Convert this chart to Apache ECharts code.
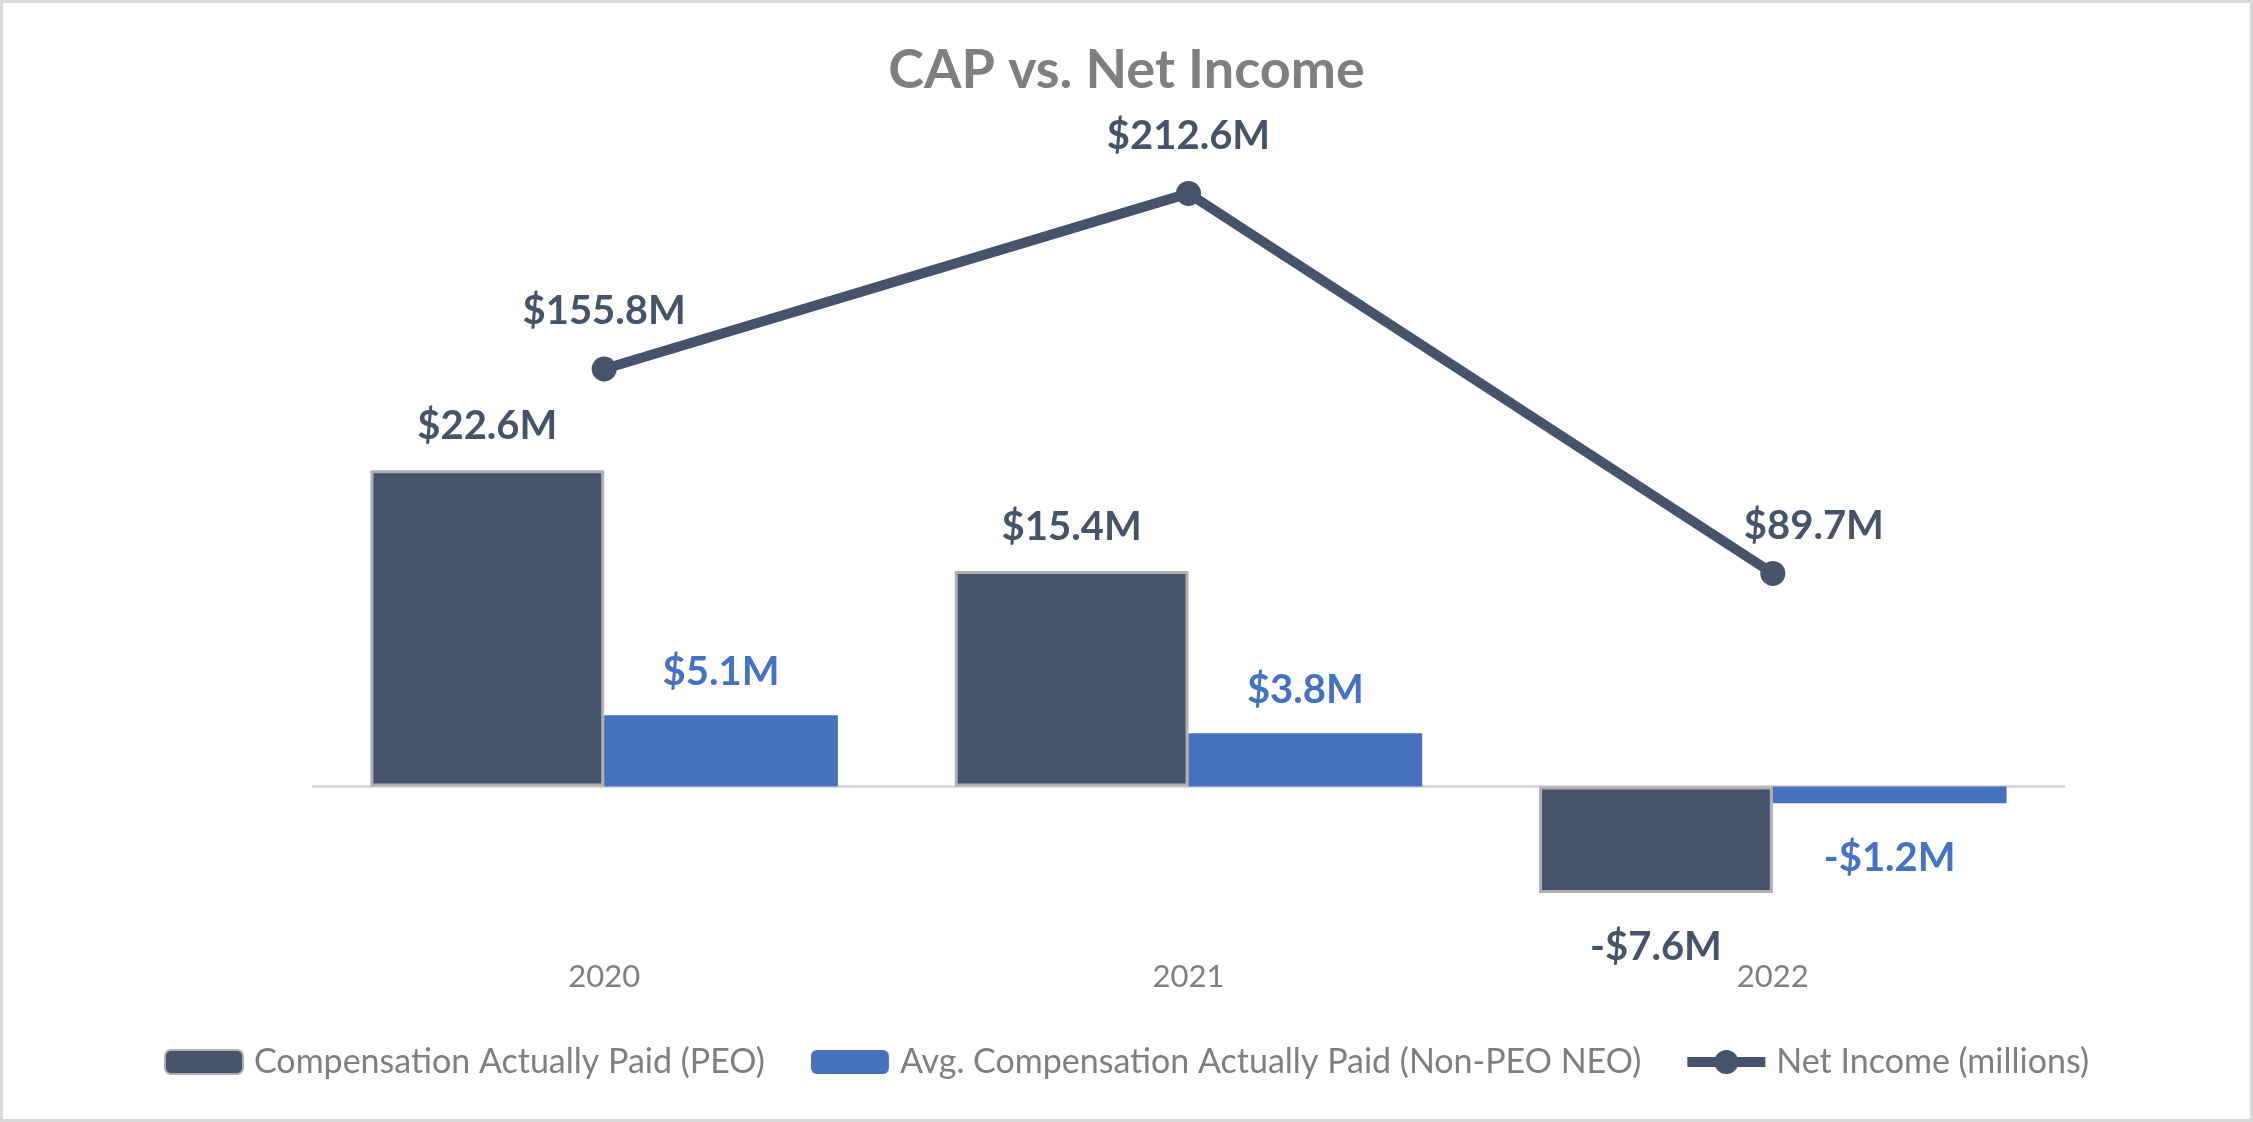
<!DOCTYPE html>
<html>
<head>
<meta charset="utf-8">
<script src="https://cdn.jsdelivr.net/npm/echarts@6/dist/echarts.min.js"></script>
<style>
html,body{margin:0;padding:0;background:#fff;}
#chart{width:2253px;height:1122px;}
</style>
</head>
<body>
<div id="chart"></div>
<script>
// ---- data ----
const years = ['2020', '2021', '2022'];
const capPEO = [22.6, 15.4, -7.6];
const capNonPEO = [5.1, 3.8, -1.2];
const netIncome = [155.8, 212.6, 89.7];
const seriesNames = ['Compensation Actually Paid (PEO)', 'Avg. Compensation Actually Paid (Non-PEO NEO)', 'Net Income (millions)'];
const titleText = 'CAP vs. Net Income';

// ---- styling (not data) ----
const niLabelOffsets = [[0, 0], [0, 0], [41, 10]];
const FONT = 'Lato, "Open Sans", sans-serif';
const lineLegendIcon = 'path://M0,7 L29,7 L29,17 L0,17 Z M49,7 L78,7 L78,17 L49,17 Z M27,12 A12,12 0 1 1 51,12 A12,12 0 1 1 27,12 Z';
const fmt = v => (v < 0 ? '-$' + Math.abs(v).toFixed(1) : '$' + v.toFixed(1)) + 'M';

function barData(arr, distPos, distNeg) {
  return arr.map(v => ({
    value: v,
    label: { position: v < 0 ? 'bottom' : 'top', distance: v < 0 ? distNeg : distPos }
  }));
}

const chart = echarts.init(document.getElementById('chart'), null, { renderer: 'canvas' });
chart.setOption({
  backgroundColor: '#ffffff',
  animation: false,
  title: {
    text: titleText, left: 'center', top: 39,
    textStyle: { fontFamily: FONT, fontSize: 54, fontWeight: 'bold', color: '#7f7f7f' }
  },
  graphic: [{
    type: 'rect', silent: true, z: 100,
    shape: { x: 1.5, y: 1.5, width: 2250, height: 1119 },
    style: { fill: 'none', stroke: '#d9d9d9', lineWidth: 3 }
  }],
  legend: {
    top: 1040, left: 'center',
    itemWidth: 78, itemHeight: 24, itemGap: 46,
    textStyle: { fontFamily: FONT, fontSize: 34, color: '#7f7f7f', padding: [0, 0, 0, 6] },
    data: [
      { name: seriesNames[0] },
      { name: seriesNames[1] },
      { name: seriesNames[2], icon: lineLegendIcon, itemStyle: { color: '#44546a', borderWidth: 0 } }
    ]
  },
  grid: { left: 312, right: 188, top: 100, bottom: 182, containLabel: false },
  xAxis: {
    type: 'category', data: years,
    axisLine: { show: false }, axisTick: { show: false },
    axisLabel: { margin: 21, fontFamily: FONT, fontSize: 31, color: '#7f7f7f' },
    splitLine: { show: false }
  },
  yAxis: [
    { type: 'value', show: false, min: -10.96, max: 49.04, splitLine: { show: false } },
    { type: 'value', show: false, min: -28.85, max: 242.8, splitLine: { show: false } }
  ],
  series: [
    {
      name: seriesNames[0], type: 'bar', yAxisIndex: 0,
      barGap: '0%', barCategoryGap: '20%',
      data: barData(capPEO, 24, 34),
      itemStyle: { color: '#44546a', borderColor: '#b0b0b0', borderWidth: 3 },
      label: {
        show: true, formatter: p => fmt(p.value),
        fontFamily: FONT, fontSize: 40, fontWeight: 'bold', color: '#44546a'
      },
      markLine: {
        silent: true, symbol: 'none', z: 1,
        label: { show: false },
        lineStyle: { color: '#d9d9d9', width: 3, type: 'solid' },
        data: [{ yAxis: 0 }]
      },
      z: 2
    },
    {
      name: seriesNames[1], type: 'bar', yAxisIndex: 0,
      barGap: '0%', barCategoryGap: '20%',
      data: barData(capNonPEO, 23, 35),
      itemStyle: { color: '#4672bd' },
      label: {
        show: true, formatter: p => fmt(p.value),
        fontFamily: FONT, fontSize: 40, fontWeight: 'bold', color: '#4472c4'
      },
      z: 2
    },
    {
      name: seriesNames[2], type: 'line', yAxisIndex: 1,
      data: netIncome.map((v, i) => ({ value: v, label: { offset: niLabelOffsets[i] } })),
      symbol: 'circle', symbolSize: 25,
      lineStyle: { color: '#44546a', width: 10 },
      itemStyle: { color: '#44546a' },
      label: {
        show: true, position: 'top', distance: 25, formatter: p => fmt(p.value),
        fontFamily: FONT, fontSize: 40, fontWeight: 'bold', color: '#44546a'
      },
      z: 5
    }
  ]
});
</script>
</body>
</html>
